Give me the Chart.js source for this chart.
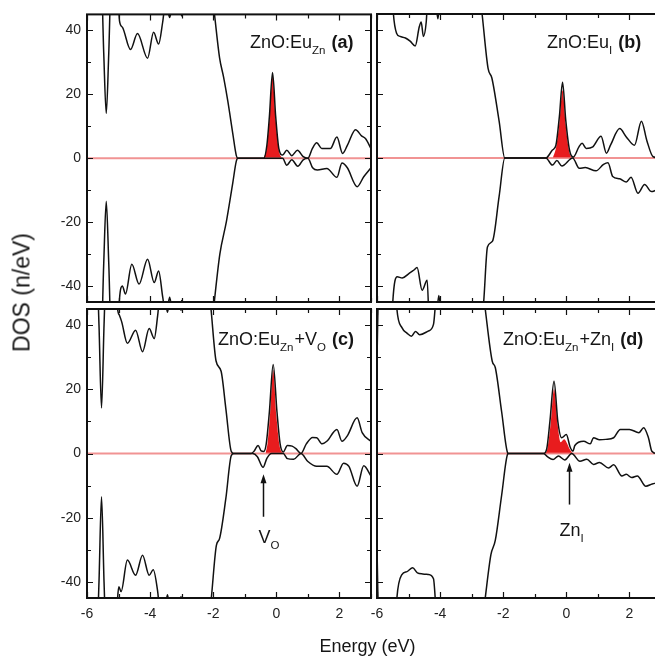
<!DOCTYPE html>
<html>
<head>
<meta charset="utf-8">
<script src="https://cdn.jsdelivr.net/npm/chart.js@4.4.1/dist/chart.umd.min.js"></script>
<style>
  body { margin: 0; background: #fff; }
  #wrap { position: relative; width: 655px; height: 659px; overflow: hidden; background: #fff;
          font-family: 'Liberation Sans', Arial, sans-serif; color: #151515; }
  #wrap canvas { position: absolute; }
  .ylab { position: absolute; left: -78.5px; top: 281px; width: 200px; height: 23px; line-height: 23px;
          font-size: 23px; text-align: center; transform: rotate(-90deg); }
  .xlab { position: absolute; left: 267.5px; top: 637px; width: 200px; line-height: 18px;
          font-size: 18px; text-align: center; }
</style>
</head>
<body>
<div id="wrap">
  <canvas id="cA" width="386" height="317" style="left:0;top:0"></canvas>
  <canvas id="cB" width="314" height="317" style="left:362px;top:0"></canvas>
  <canvas id="cC" width="386" height="365" style="left:0;top:294px"></canvas>
  <canvas id="cD" width="314" height="365" style="left:362px;top:294px"></canvas>
  <div class="ylab">DOS (n/eV)</div>
  <div class="xlab">Energy (eV)</div>
</div>
<script>
// axis ticks
const xTicks = [-6, -4, -2, 0, 2];
const xMinor = [-5, -3, -1, 1, 3];
const yTicks = [-40, -20, 0, 20, 40];
const yMinor = [-30, -10, 10, 30];
const energyRange = [-6, 3];
const dosRange = [-45, 45];

// [energy (eV), DOS]; values past +-45 are off the plot
// (a) ZnO:Eu_Zn
const aUp = [[-6,60],[-5.56,60],[-5.47,33],[-5.39,14],[-5.31,33],[-5.22,60],[-5.05,60],[-4.97,43],[-4.88,41],[-4.62,34],[-4.40,39],[-4.08,31.3],[-3.89,39.4],[-3.73,35.7],[-3.60,42.7],[-3.52,48],[-3.45,47],[-3.38,44],[-3.30,48],[-3.10,50],[-3.00,44.5],[-2.90,52],[-2.50,60],[-2.14,60],[-1.96,45],[-1.80,31.5],[-1.67,25.3],[-1.54,18],[-1.38,7.7],[-1.27,0.9],[-1.22,0],[-0.40,0],[-0.30,4],[-0.22,13],[-0.12,26.8],[-0.02,13],[0.08,3],[0.20,1],[0.33,2.5],[0.49,0.8],[0.67,2.5],[0.85,0.5],[1.00,0],[1.14,3],[1.28,4.8],[1.44,3],[1.71,3],[1.92,6.6],[2.10,1.5],[2.25,4],[2.51,8.9],[2.70,7],[2.83,6.1],[3.0,3]];
const aDn = [[-6,-60],[-5.56,-60],[-5.47,-33],[-5.39,-13.5],[-5.31,-33],[-5.22,-60],[-5.05,-60],[-4.97,-44],[-4.88,-40],[-4.78,-42.5],[-4.58,-33.2],[-4.35,-39.4],[-4.08,-31.6],[-3.87,-38.9],[-3.73,-35.3],[-3.60,-43.5],[-3.52,-48],[-3.45,-47],[-3.38,-43.5],[-3.30,-48],[-3.10,-50],[-3.00,-44.5],[-2.90,-52],[-2.50,-60],[-2.12,-60],[-1.95,-43.5],[-1.79,-30],[-1.58,-19.7],[-1.38,-7.7],[-1.27,-1],[-1.22,0],[0.20,0],[0.33,-2.2],[0.49,-0.5],[0.68,-2.5],[0.85,-0.5],[1.00,0],[1.15,-3],[1.30,-3.7],[1.60,-3.2],[1.92,-6],[2.08,-1.5],[2.25,-3],[2.56,-8.9],[2.77,-5.8],[3.0,-3]];
const aEu = [[-0.40,0],[-0.30,3.5],[-0.22,12],[-0.12,25.5],[-0.02,12],[0.08,2.5],[0.18,0]];

// (b) ZnO:Eu_I
const bUp = [[-6,60],[-5.56,60],[-5.48,45],[-5.38,39],[-5.27,38],[-5.10,37.5],[-4.95,36.5],[-4.79,35],[-4.66,41],[-4.60,42.5],[-4.53,38],[-4.44,42.5],[-4.36,55],[-4.15,50],[-4.07,43.5],[-3.98,52],[-3.6,60],[-2.85,60],[-2.67,45],[-2.48,28],[-2.36,25],[-2.13,11.5],[-1.95,0],[-0.65,0],[-0.44,2.5],[-0.33,4],[-0.22,13],[-0.12,23.7],[-0.02,12],[0.10,2.5],[0.22,0.3],[0.40,3.5],[0.50,4.6],[0.63,3],[0.84,3.5],[1.10,6.8],[1.27,1.5],[1.40,4],[1.69,9.2],[1.90,6.6],[2.16,4],[2.38,11.5],[2.55,5.5],[2.75,0.4],[3.0,0]];
const bDn = [[-6,-60],[-5.56,-60],[-5.50,-45],[-5.36,-37.1],[-5.20,-37.5],[-4.99,-36.1],[-4.83,-35],[-4.73,-34.2],[-4.57,-41.3],[-4.41,-38.2],[-4.33,-55],[-4.12,-50],[-4.04,-43],[-3.95,-52],[-3.6,-60],[-2.80,-60],[-2.62,-45],[-2.50,-27.8],[-2.34,-26],[-2.13,-12],[-1.95,0],[-0.65,0],[-0.44,-2.2],[-0.30,-0.8],[-0.14,-2.5],[0.20,0],[0.41,-3.2],[0.60,-3],[0.94,-4],[1.18,-2],[1.32,-1.5],[1.47,-5.8],[1.69,-6.5],[1.90,-7.5],[2.05,-6],[2.27,-11],[2.48,-8.3],[2.70,-10.5],[3.0,-9]];
const bEu = [[-0.43,0],[-0.32,3.5],[-0.22,11],[-0.12,21.2],[-0.02,10.5],[0.08,2.5],[0.16,0]];

// (c) ZnO:Eu_Zn+V_O
const cUp = [[-6,60],[-5.70,60],[-5.62,40],[-5.54,14.2],[-5.46,40],[-5.38,60],[-5.10,60],[-5.03,45],[-4.97,43],[-4.90,41],[-4.72,34.3],[-4.46,38.4],[-4.24,31.7],[-4.03,38.9],[-3.87,35.8],[-3.76,43],[-3.68,50],[-3.52,48],[-3.45,44],[-3.38,48],[-3.10,50],[-3.02,44.5],[-2.94,52],[-2.60,60],[-2.22,60],[-2.07,45],[-1.91,28.8],[-1.75,25.6],[-1.60,14],[-1.43,0.7],[-1.35,0],[-0.80,0],[-0.70,0.8],[-0.58,2.5],[-0.48,0.8],[-0.40,0.6],[-0.32,3],[-0.22,13],[-0.10,27.7],[0.02,13],[0.12,3],[0.22,0.5],[0.35,2.5],[0.50,2.3],[0.62,1.5],[0.78,0],[0.95,3],[1.15,5],[1.28,4.9],[1.45,3],[1.60,3.8],[1.92,7.5],[2.08,3.8],[2.25,5.5],[2.56,11.1],[2.72,6.5],[3.0,3.8]];
const cDn = [[-6,-60],[-5.70,-60],[-5.62,-40],[-5.54,-13.5],[-5.46,-40],[-5.38,-60],[-5.10,-60],[-5.03,-45],[-4.99,-41.5],[-4.92,-43],[-4.72,-33.2],[-4.46,-37.9],[-4.24,-31.7],[-4.03,-37.9],[-3.90,-36.2],[-3.76,-43],[-3.68,-50],[-3.52,-48],[-3.45,-44],[-3.38,-48],[-3.10,-50],[-3.02,-44.5],[-2.94,-52],[-2.60,-60],[-2.22,-60],[-2.06,-45],[-1.90,-28.6],[-1.80,-26.5],[-1.60,-14],[-1.43,-0.7],[-1.35,0],[-0.75,0],[-0.60,-1],[-0.42,-4.3],[-0.30,-1.5],[-0.15,0],[0.22,0],[0.35,-1.6],[0.55,-1.8],[0.78,0],[1.00,-2.5],[1.28,-4],[1.60,-4],[1.92,-6.5],[2.13,-3],[2.30,-4],[2.56,-10.2],[2.77,-3.8],[3.0,-7]];
const cEu = [[-0.34,0],[-0.28,3],[-0.20,12],[-0.10,26],[0.0,12],[0.10,2.5],[0.22,0]];

// (d) ZnO:Eu_Zn+Zn_I
const dUp = [[-6,29],[-5.97,45],[-5.93,60],[-5.45,60],[-5.37,45],[-5.21,39.2],[-5.05,37.5],[-4.91,36.5],[-4.78,38],[-4.65,37],[-4.38,38.1],[-4.21,40.2],[-4.12,50],[-4.0,60],[-2.75,60],[-2.57,45],[-2.35,28.8],[-2.25,26.7],[-2.05,13],[-1.86,0.2],[-1.83,0],[-0.72,0],[-0.62,1.5],[-0.52,10],[-0.39,22.5],[-0.27,10],[-0.15,4.9],[0.0,5.9],[0.12,2],[0.21,0.7],[0.27,2.5],[0.55,3.8],[0.76,3],[0.86,4.9],[1.05,4.3],[1.25,4.4],[1.50,4.9],[1.71,7.5],[2.0,7.5],[2.30,6.5],[2.45,8],[2.60,5],[2.71,0.7],[2.87,0],[3.0,0]];
const dDn = [[-6,-29],[-5.97,-45],[-5.93,-60],[-5.45,-60],[-5.37,-45],[-5.21,-37.7],[-5.05,-36.8],[-4.87,-35.6],[-4.72,-37.2],[-4.55,-37.5],[-4.38,-37.7],[-4.21,-39],[-4.12,-50],[-4.0,-60],[-2.75,-60],[-2.57,-45],[-2.39,-31.5],[-2.25,-27],[-2.05,-13],[-1.86,-0.2],[-1.83,0],[-0.72,0],[-0.60,-1],[-0.42,-1.9],[-0.25,-0.8],[-0.05,-2],[0.17,0],[0.43,-2.4],[0.65,-1.8],[0.86,-3.4],[1.05,-2.8],[1.34,-4.5],[1.50,-3.5],[1.76,-7],[1.90,-6.5],[2.07,-7.5],[2.25,-7],[2.52,-10.2],[2.72,-9.5],[3.0,-9]];
const dEu = [[-0.70,0],[-0.60,1.5],[-0.50,9],[-0.39,20],[-0.27,8.5],[-0.18,3.5],[-0.07,4.4],[0.02,3.2],[0.10,1.5],[0.21,0]];

const FONT = "'Liberation Sans', Arial, sans-serif";
const toXY = arr => arr.map(([x, y]) => ({ x, y }));

// draws a run of text pieces: n = normal, s = subscript, b = bold
function drawRich(ctx, segs, x, y) {
    ctx.fillStyle = '#151515';
    ctx.textAlign = 'left';
    ctx.textBaseline = 'alphabetic';
    segs.forEach(([t, kind]) => {
        ctx.font = kind == 'b' ? 'bold 18px ' + FONT : kind == 's' ? '11.5px ' + FONT : '18px ' + FONT;
        ctx.fillText(t, x, kind == 's' ? y + 6 : y);
        x += ctx.measureText(t).width + (kind == 's' ? 1 : 0);
    });
}

function decoPlugin(p) {
    return {
        id: 'deco',
        afterDraw(chart) {
            const ctx = chart.ctx, a = chart.chartArea;
            const xs = chart.scales.x, ys = chart.scales.y;
            ctx.save();
            ctx.strokeStyle = '#111';
            ctx.lineWidth = 1.2;
            ctx.beginPath();
            const tickX = (v, len) => {
                const px = Math.round(xs.getPixelForValue(v)) + 0.5;
                ctx.moveTo(px, a.top); ctx.lineTo(px, a.top + len);
                ctx.moveTo(px, a.bottom); ctx.lineTo(px, a.bottom - len);
            };
            const tickY = (v, len) => {
                const py = Math.round(ys.getPixelForValue(v)) + 0.5;
                ctx.moveTo(a.left, py); ctx.lineTo(a.left + len, py);
                ctx.moveTo(a.right, py); ctx.lineTo(a.right - len, py);
            };
            xTicks.forEach(v => tickX(v, 6));
            xMinor.forEach(v => tickX(v, 4));
            yTicks.forEach(v => tickY(v, 6));
            yMinor.forEach(v => tickY(v, 4));
            ctx.stroke();

            // frame
            ctx.lineWidth = 2;
            ctx.strokeStyle = '#111';
            ctx.strokeRect(a.left, a.top, a.right - a.left, a.bottom - a.top);

            drawRich(ctx, p.label, a.left + p.labelAt[0], a.top + p.labelAt[1]);

            if (p.arrow) {
                const ar = p.arrow;
                const ax = Math.round(xs.getPixelForValue(ar.x)) + 0.5;
                const tip = ys.getPixelForValue(ar.tip), tail = ys.getPixelForValue(ar.tail);
                ctx.lineWidth = 1.5;
                ctx.beginPath();
                ctx.moveTo(ax, tail); ctx.lineTo(ax, tip + 6);
                ctx.stroke();
                ctx.fillStyle = '#111';
                ctx.beginPath();
                ctx.moveTo(ax, tip); ctx.lineTo(ax - 3, tip + 9); ctx.lineTo(ax + 3, tip + 9);
                ctx.closePath();
                ctx.fill();
                drawRich(ctx, ar.text, ax + ar.dx, tail + ar.dy);
            }
            ctx.restore();
        }
    };
}

function makePanel(id, p) {
    const tickFont = { family: FONT, size: 14 };
    new Chart(document.getElementById(id), {
        type: 'line',
        data: {
            datasets: [
                { data: toXY(p.eu), borderWidth: 0, backgroundColor: 'rgb(232,28,30)', fill: 'origin', order: 3 },
                { data: energyRange.map(x => ({ x, y: 0 })), borderColor: 'rgba(238,120,120,0.8)', borderWidth: 2, order: 2 },
                { data: toXY(p.up), borderColor: '#111', borderWidth: 1.5, fill: false, order: 1 },
                { data: toXY(p.dn), borderColor: '#111', borderWidth: 1.5, fill: false, order: 1 }
            ]
        },
        options: {
            responsive: false,
            animation: false,
            devicePixelRatio: 1,
            events: [],
            layout: { padding: { top: p.padTop, right: 15, left: 0, bottom: p.padBottom } },
            elements: {
                line: { cubicInterpolationMode: 'monotone' },
                point: { radius: 0 }
            },
            plugins: { legend: { display: false }, tooltip: { enabled: false } },
            scales: {
                x: {
                    type: 'linear', min: energyRange[0], max: energyRange[1],
                    grid: { display: false, drawTicks: false }, border: { display: false },
                    ticks: { display: p.showX, padding: 8, font: tickFont, color: '#222', includeBounds: false },
                    afterBuildTicks: s => { s.ticks = xTicks.map(v => ({ value: v })); },
                    afterFit: s => { s.height = p.xH; }
                },
                y: {
                    type: 'linear', min: dosRange[0], max: dosRange[1],
                    grid: { display: false, drawTicks: false }, border: { display: false },
                    ticks: { display: p.showY, padding: 6, font: tickFont, color: '#222', includeBounds: false },
                    afterBuildTicks: s => { s.ticks = yTicks.map(v => ({ value: v })); },
                    afterFit: s => { s.width = p.yW; }
                }
            }
        },
        plugins: [decoPlugin(p)]
    });
}

// every canvas keeps a 15px margin round its plot area so label overhang never moves the frame
makePanel('cA', { up: aUp, dn: aDn, eu: aEu, showX: false, showY: true, yW: 87, xH: 0, padTop: 14, padBottom: 15,
    label: [['ZnO:Eu', 'n'], ['Zn', 's'], [' (a)', 'b']], labelAt: [163, 34] });
makePanel('cB', { up: bUp, dn: bDn, eu: bEu, showX: false, showY: false, yW: 15, xH: 0, padTop: 14, padBottom: 15,
    label: [['ZnO:Eu', 'n'], ['I', 's'], [' (b)', 'b']], labelAt: [170, 34] });
makePanel('cC', { up: cUp, dn: cDn, eu: cEu, showX: true, showY: true, yW: 87, xH: 61, padTop: 15, padBottom: 0,
    label: [['ZnO:Eu', 'n'], ['Zn', 's'], ['+V', 'n'], ['O', 's'], [' (c)', 'b']], labelAt: [131, 36],
    arrow: { x: -0.42, tip: -6.5, tail: -19.7, text: [['V', 'n'], ['O', 's']], dx: -5, dy: 26 } });
makePanel('cD', { up: dUp, dn: dDn, eu: dEu, showX: true, showY: false, yW: 15, xH: 61, padTop: 15, padBottom: 0,
    label: [['ZnO:Eu', 'n'], ['Zn', 's'], ['+Zn', 'n'], ['I', 's'], [' (d)', 'b']], labelAt: [126, 36],
    arrow: { x: 0.08, tip: -2.9, tail: -15.9, text: [['Zn', 'n'], ['I', 's']], dx: -10, dy: 31 } });
</script>
</body>
</html>
